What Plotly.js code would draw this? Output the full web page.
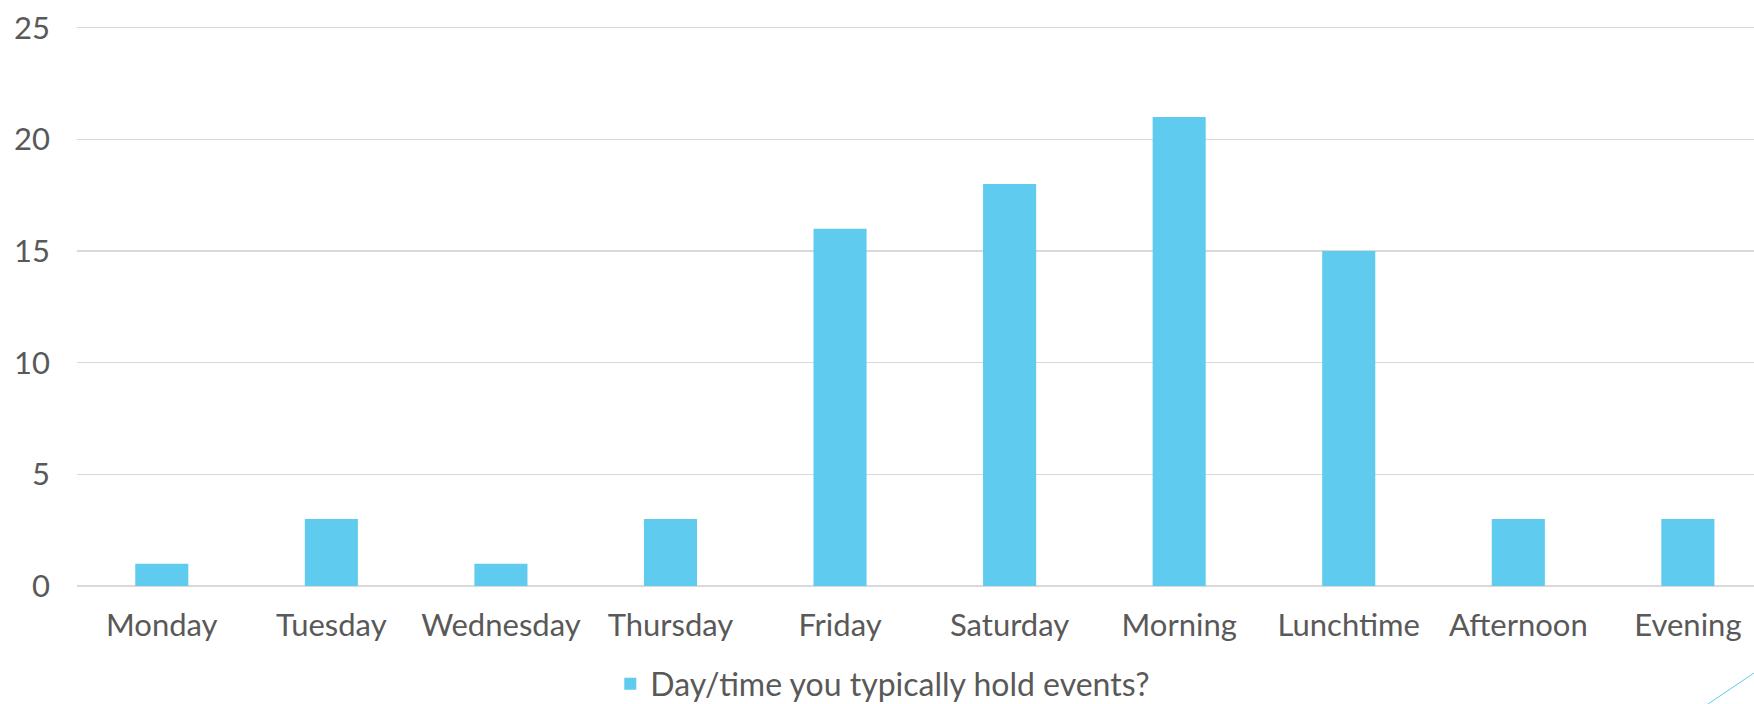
<!DOCTYPE html>
<html>
<head>
<meta charset="utf-8">
<script src="https://cdn.plot.ly/plotly-3.0.1.min.js"></script>
<style>html,body{margin:0;padding:0;background:#fff;overflow:hidden}#chart{width:1754px;height:704px}</style>
</head>
<body>
<div id="chart"></div>
<script>
const categories = ["Monday","Tuesday","Wednesday","Thursday","Friday","Saturday","Morning","Lunchtime","Afternoon","Evening"];
const values = [1,3,1,3,16,18,21,15,3,3];
const seriesName = "Day/time you typically hold events?";
const yTicks = [0,5,10,15,20,25];

const fontFam = "Lato, 'Open Sans', sans-serif";
const trace = {
  type: "bar",
  x: categories,
  y: values,
  name: seriesName,
  marker: {color: "#5ECBEF", line: {width: 0}},
  showlegend: true,
  hoverinfo: "x+y"
};
const layout = {
  width: 1754, height: 704,
  margin: {l: 77, r: 0, t: 21, b: 118, autoexpand: false},
  paper_bgcolor: "#ffffff", plot_bgcolor: "#ffffff",
  font: {family: fontFam, size: 31, color: "#595959"},
  bargap: 0.687,
  xaxis: {
    type: "category",
    range: [-0.5, 9.39],
    showgrid: false, zeroline: false,
    showline: false, ticks: "",
    automargin: false,
    ticklabelstandoff: 18,
    tickfont: {family: fontFam, size: 31, color: "#595959"}
  },
  yaxis: {
    range: [0, 25.3], tickvals: yTicks,
    showgrid: true, gridcolor: "#D9D9D9", gridwidth: 1.5,
    zeroline: true, zerolinecolor: "#D9D9D9", zerolinewidth: 1.5,
    showline: false, ticks: "",
    automargin: false,
    ticklabelstandoff: 26,
    tickfont: {family: fontFam, size: 31, color: "#595959"}
  },
  legend: {
    orientation: "h", x: 0.318, xanchor: "left", y: -0.1735, yanchor: "middle",
    font: {family: fontFam, size: 32, color: "#595959"},
    itemwidth: 30
  },
  shapes: [{
    type: "line", xref: "paper", yref: "paper",
    x0: 0.9726, y0: -0.2088, x1: 1.0, y1: -0.154,
    line: {color: "#5ECBEF", width: 1}
  }]
};
Plotly.newPlot("chart", [trace], layout, {displayModeBar: false, staticPlot: true});
</script>
</body>
</html>
